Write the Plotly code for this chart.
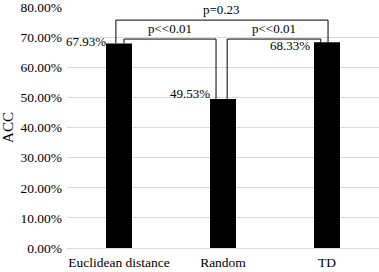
import plotly.graph_objects as go

categories = ["Euclidean distance", "Random", "TD"]
acc_values = [0.6793, 0.4953, 0.6833]
value_labels = ["67.93%", "49.53%", "68.33%"]
y_ticks = [0.0, 0.1, 0.2, 0.3, 0.4, 0.5, 0.6, 0.7, 0.8]

# significance brackets: (left category, right category, label, top level, leg x positions)
brackets = [
    (0, 1, "p<<0.01", 0.694, (0.048, 0.933)),
    (1, 2, "p<<0.01", 0.694, (1.04, 1.94)),
    (0, 2, "p=0.23", 0.757, (-0.03, 2.01)),
]

# pixel nudges for the value labels (style only)
label_nudges = [(2, 2), (2, 5), (-2, -3)]

FONT = "Liberation Serif"

fig = go.Figure()
fig.add_trace(go.Bar(
    x=list(range(len(categories))), y=acc_values,
    marker=dict(color="black", line=dict(width=0)),
    width=0.25, showlegend=False, hoverinfo="skip",
))

shapes = []
annotations = []
for i, (v, lab) in enumerate(zip(acc_values, value_labels)):
    dx, dy = label_nudges[i]
    annotations.append(dict(
        x=i - 0.125, y=v, xref="x", yref="y", text=lab, showarrow=False,
        xanchor="right", yanchor="middle", xshift=dx, yshift=dy,
        font=dict(family=FONT, size=13, color="black"),
    ))

for a, b, lab, top, (xl, xr) in brackets:
    ya, yb = acc_values[a], acc_values[b]
    path = f"M {xl} {ya} L {xl} {top} L {xr} {top} L {xr} {yb}"
    shapes.append(dict(type="path", path=path, xref="x", yref="y",
                       line=dict(color="black", width=1)))
    annotations.append(dict(
        x=(xl + xr) / 2, y=top, xref="x", yref="y", text=lab, showarrow=False,
        xanchor="center", yanchor="bottom", yshift=1,
        font=dict(family=FONT, size=13, color="black"),
    ))

fig.update_layout(
    width=379, height=272,
    margin=dict(l=67, r=0, t=7, b=24),
    plot_bgcolor="white", paper_bgcolor="white",
    font=dict(family=FONT, size=13.5, color="black"),
    shapes=shapes, annotations=annotations,
    xaxis=dict(
        range=[-0.5, 2.5], tickmode="array", automargin=False,
        tickvals=list(range(len(categories))), ticktext=categories,
        showgrid=False, zeroline=False, showline=False, ticks="",
        ticklabelstandoff=4,
        tickfont=dict(family=FONT, size=13.5, color="black"),
        ticklabeloverflow="allow",
    ),
    yaxis=dict(
        range=[0, 0.8005], tickmode="array", tickvals=y_ticks, automargin=False,
        tickformat=".2%", showgrid=True, gridcolor="#d9d9d9", gridwidth=1,
        zeroline=True, zerolinecolor="#d9d9d9", zerolinewidth=1,
        showline=False, ticks="", ticklabelstandoff=4,
        ticklabeloverflow="allow",
        tickfont=dict(family=FONT, size=13.5, color="black"),
        title=dict(text="ACC", standoff=4, font=dict(family=FONT, size=15, color="black")),
    ),
)

fig.write_html(
    "out.html",
    config={"displayModeBar": False, "staticPlot": True},
    post_script="document.body.style.margin='0px';document.body.style.overflow='hidden';",
)
